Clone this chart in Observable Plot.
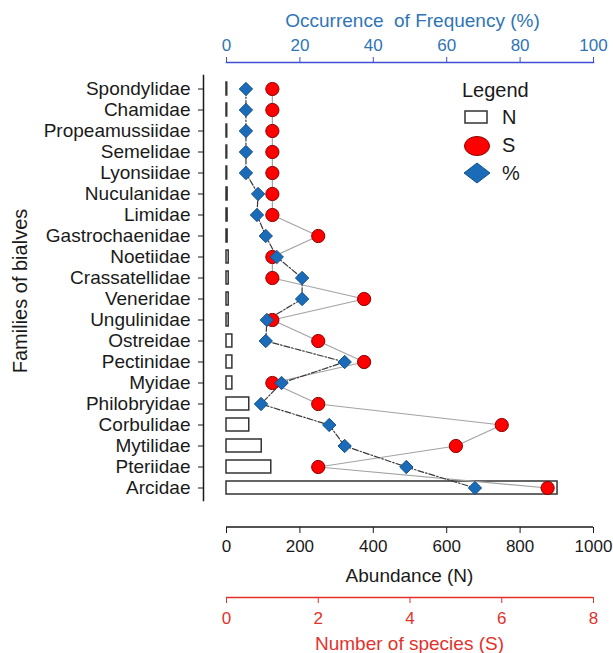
<!DOCTYPE html>
<html><head><meta charset="utf-8">
<script src="https://cdn.jsdelivr.net/npm/d3@7"></script>
<script src="https://cdn.jsdelivr.net/npm/@observablehq/plot@0.6"></script>
<style>
body{margin:0;background:#fff;}
#wrap{position:relative;width:613px;height:653px;font-family:"Liberation Sans",Arial,sans-serif;}
#legend{position:absolute;left:0;top:0;pointer-events:none;}
</style></head><body><div id="wrap"></div>
<script>
const families = ["Spondylidae","Chamidae","Propeamussiidae","Semelidae","Lyonsiidae","Nuculanidae","Limidae","Gastrochaenidae","Noetiidae","Crassatellidae","Veneridae","Ungulinidae","Ostreidae","Pectinidae","Myidae","Philobryidae","Corbulidae","Mytilidae","Pteriidae","Arcidae"];
const abundance = [2,2,2,2,2,3,3,3,6,6,6,6,16,16,16,62,62,96,122,902];
const species = [1,1,1,1,1,1,1,2,1,1,3,1,2,3,1,2,6,5,2,7];
const occurrence = [5.3,5.3,5.3,5.3,5.3,8.6,8.3,10.7,13.7,20.6,20.6,11,10.7,32.2,15,9.4,28,32.2,49,67.7];
const abundanceTicks = [0,200,400,600,800,1000];
const speciesTicks = [0,2,4,6,8];
const occurrenceTicks = [0,20,40,60,80,100];
const legendLabels = ["N","S","%"];

const sF = d3.max(abundanceTicks) / d3.max(speciesTicks);
const pF = d3.max(abundanceTicks) / d3.max(occurrenceTicks);
const data = families.map((family, i) => ({family, N: abundance[i], S: species[i], P: occurrence[i]}));

const font = '"Liberation Sans", Arial, sans-serif';
const blue = "#2f75b5", axisBlue = "#3f4fcf", red = "#e3322b", ink = "#1a1a1a";
const W = 613, H = 653, mT = 62, mB = 126;
const mid = (mT + H - mB) / 2;

const chart = Plot.plot({
  width: W, height: H,
  marginLeft: 203, marginRight: 20, marginTop: mT, marginBottom: mB,
  style: {fontFamily: font, fontSize: "17px", color: ink, background: "white"},
  x: {domain: [0, d3.max(abundanceTicks)], insetLeft: 23},
  y: {domain: families, padding: 0.38, insetTop: 10, insetBottom: 23},
  marks: [
    Plot.axisY({anchor: "left", tickSize: 5, tickPadding: 8, fontSize: 19, label: null, stroke: ink, fill: ink}),
    Plot.axisX(occurrenceTicks.map(v => v * pF), {anchor: "top", tickSize: 6, tickPadding: 6, tickFormat: v => String(Math.round(v / pF)), stroke: axisBlue, fill: blue, label: null}),
    Plot.axisX(abundanceTicks, {anchor: "bottom", tickSize: 6, tickPadding: 6, tickFormat: d => String(d), stroke: ink, fill: ink, label: null}),
    Plot.axisX(speciesTicks.map(v => v * sF), {anchor: "bottom", dy: 70, tickSize: 6, tickPadding: 8, tickFormat: v => String(Math.round(v / sF)), stroke: red, fill: red, label: null}),
    Plot.frame({anchor: "left", insetTop: 13, insetBottom: 27, stroke: ink, strokeWidth: 1.5}),
    Plot.frame({anchor: "top", insetLeft: 23, stroke: axisBlue, strokeWidth: 1.5}),
    Plot.ruleY([speciesTicks], {y: null, x1: t => d3.min(t) * sF, x2: t => d3.max(t) * sF, dy: (H - mB) + 70 - mid, stroke: red, strokeWidth: 1.5}),
    Plot.text(["Occurrence\u00a0 of Frequency (%)"], {frameAnchor: "top", lineAnchor: "middle", dx: 14, dy: -42, fill: blue, fontSize: 19}),
    Plot.text(["Abundance (N)"], {frameAnchor: "bottom", lineAnchor: "middle", dx: 11, dy: 48, fill: ink, fontSize: 19}),
    Plot.text(["Number of species (S)"], {frameAnchor: "bottom", lineAnchor: "middle", dx: 11, dy: 116, fill: red, fontSize: 19}),
    Plot.text(["Families of bialves"], {frameAnchor: "left", rotate: -90, textAnchor: "middle", lineAnchor: "middle", dx: -183, dy: -4, fill: ink, fontSize: 20}),
    Plot.barX(data, {x: "N", y: "family", fill: "white", stroke: "#333", strokeWidth: 1.5}),
    Plot.line(data, {x: d => d.S * sF, y: "family", stroke: "#a3a3a3", strokeWidth: 1.2}),
    Plot.line(data, {x: d => d.P * pF, y: "family", stroke: "#3a3a3a", strokeWidth: 1.2, strokeDasharray: "6,2,1.5,2"}),
    Plot.dot(data, {x: d => d.S * sF, y: "family", r: 6.6, fill: "#ff0000", stroke: "#8a0000", strokeWidth: 1}),
    Plot.dot(data, {x: d => d.P * pF, y: "family", symbol: "diamond2", r: 6, fill: "#1b6cb8", stroke: "#15508c", strokeWidth: 1})
  ]
});

const wrap = d3.select("#wrap");
wrap.node().appendChild(chart);
const xs = chart.scale("x");
const lg = wrap.append("svg").attr("id", "legend").attr("width", W).attr("height", H)
  .style("font-family", font);
// abundance axis line, placed through Plot's x scale
lg.append("line")
  .attr("x1", xs.apply(d3.min(abundanceTicks))).attr("x2", xs.apply(d3.max(abundanceTicks)))
  .attr("y1", H - mB).attr("y2", H - mB)
  .attr("stroke", ink).attr("stroke-width", 1.5);
lg.append("text").attr("x", 462).attr("y", 97).attr("font-size", 20).attr("fill", ink).text("Legend");
const rowsY = [117, 145, 173];
lg.append("rect").attr("x", 465).attr("y", 111).attr("width", 22).attr("height", 12)
  .attr("fill", "white").attr("stroke", "#333").attr("stroke-width", 1.5);
lg.append("ellipse").attr("cx", 477).attr("cy", 146).attr("rx", 12.5).attr("ry", 9.5)
  .attr("fill", "#ff0000").attr("stroke", "#8a0000");
lg.append("path").attr("d", "M464,173L477,163L490,173L477,183Z")
  .attr("fill", "#1b6cb8").attr("stroke", "#15508c");
legendLabels.forEach((t, i) => {
  lg.append("text").attr("x", 502).attr("y", rowsY[i]).attr("dy", "0.35em")
    .attr("font-size", 20).attr("fill", ink).text(t);
});
</script></body></html>
